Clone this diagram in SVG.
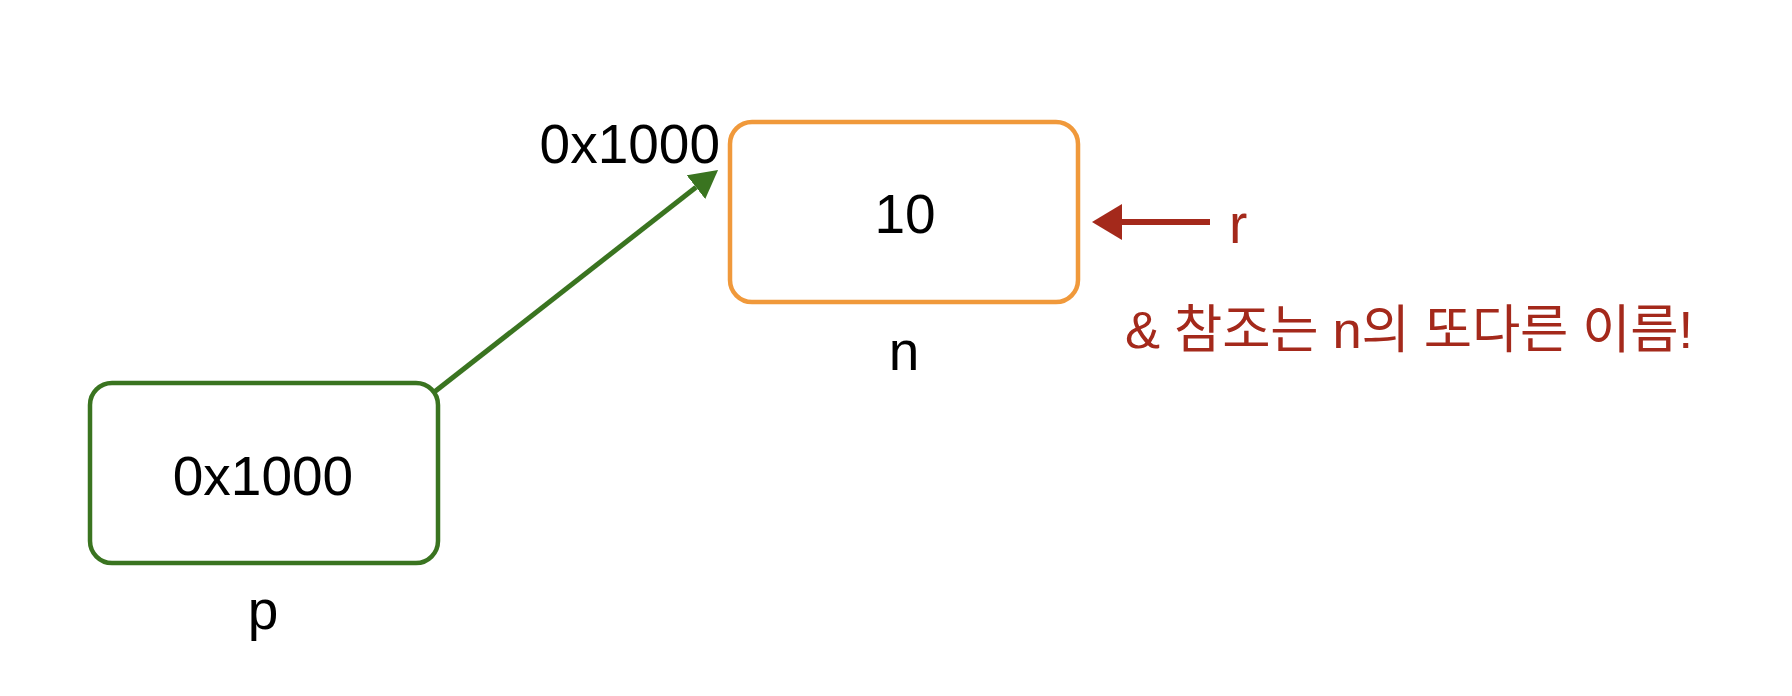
<svg xmlns="http://www.w3.org/2000/svg" width="1792" height="696" viewBox="0 0 1792 696">
  <style>
    .lbl { font-family: "Liberation Sans", Arial, sans-serif; font-size: 55px; fill: #000; }
    .box { fill: #fff; stroke-width: 4.5; stroke-linejoin: round; }
    .red { font-family: "Liberation Sans", "Noto Sans CJK KR", sans-serif; font-size: 52.5px; fill: #A4291B; }
  </style>
  <defs>
    <marker id="headGreen" markerUnits="userSpaceOnUse" markerWidth="30" markerHeight="32" refX="0" refY="15" orient="auto">
      <path d="M0,0 L28,15 L0,30 Z" fill="#3A7420"/>
    </marker>
    <marker id="headRed" markerUnits="userSpaceOnUse" markerWidth="32" markerHeight="38" refX="0" refY="18" orient="auto">
      <path d="M0,0 L30,18 L0,36 Z" fill="#A4291B"/>
    </marker>
  </defs>
  <rect width="1792" height="696" fill="#fff"/>

  <g id="connectors">
    <line x1="433" y1="393" x2="696" y2="187.2" stroke="#3A7420" stroke-width="5" marker-end="url(#headGreen)"/>
    <line x1="1210" y1="222" x2="1122" y2="222" stroke="#A4291B" stroke-width="6" marker-end="url(#headRed)"/>
  </g>

  <g id="node-n">
    <rect class="box" x="730" y="122" width="348" height="180" rx="22" stroke="#F0993B"/>
    <text class="lbl" x="905" y="233" text-anchor="middle">10</text>
    <text class="lbl" x="904" y="370" text-anchor="middle">n</text>
    <text class="lbl" x="720" y="163" text-anchor="end">0x1000</text>
  </g>

  <g id="node-p">
    <rect class="box" x="90" y="383" width="348" height="180" rx="22" stroke="#3A7420"/>
    <text class="lbl" x="263" y="495" text-anchor="middle">0x1000</text>
    <text class="lbl" x="263" y="629" text-anchor="middle">p</text>
  </g>

  <g id="node-r">
    <text class="red" x="1229" y="243" style="font-size:55px">r</text>
    <text class="red" x="1125" y="348" textLength="568">&amp; 참조는 n의 또다른 이름!</text>
  </g>
</svg>
